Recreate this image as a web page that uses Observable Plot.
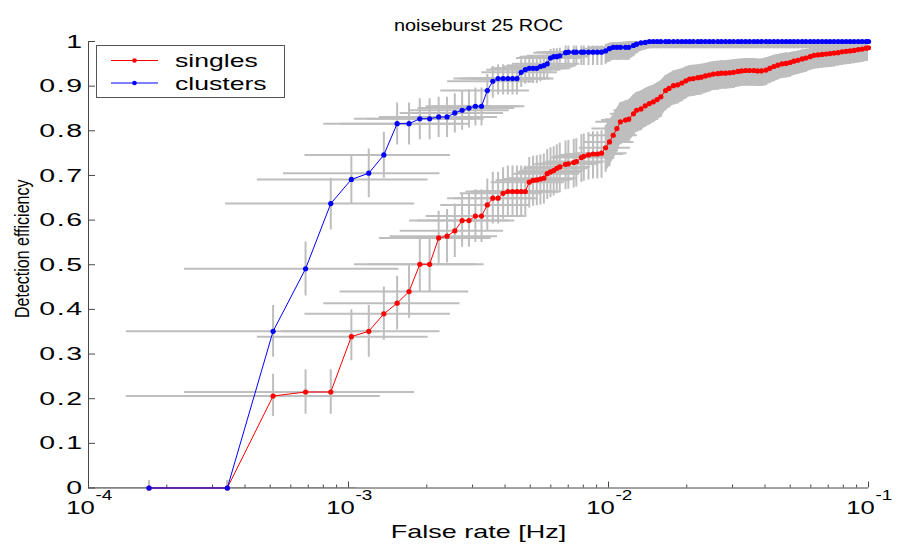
<!DOCTYPE html>
<html>
<head>
<meta charset="utf-8">
<script src="https://cdn.jsdelivr.net/npm/d3@7"></script>
<script src="https://cdn.jsdelivr.net/npm/@observablehq/plot@0.6"></script>
<style>
  html, body { margin: 0; padding: 0; background: #fff; }
  #wrap { position: relative; width: 903px; height: 548px; overflow: hidden; }
  #wrap svg text { font-family: "Liberation Sans", Arial, Helvetica, sans-serif; }
  text[aria-label="ytick-label"] { letter-spacing: 1px; }
  #legend { position: absolute; left: 96px; top: 45px; }
</style>
</head>
<body>
<div id="wrap"></div>
<script>
// ---- data ----
// number of false events k (false rate = k / livetime)
const livetime = 5850; // seconds
const kCount = [1,2,3,4,5,6,7,8,9,10,11,12,13,14,15,16,17,18,19,20,21,22,23,24,25,26,27,28,
  29,30,31,32,33,34,35,36,37,38, 40,41,43,44,46,47,49, 51,53,55,57,59,61,63,65,
  68,70,73,75,78,81,84,87,90,93, 97,100,104,108,112,116,120,124,129,133,
  138,143,148,154,159,165,171,177,184,190, 197,204,212,219,227,236,244,253,262,272,
  282,292,302,313,325,336,349,361,374,388, 402,416,431,447,463,480,497,515,534,553, 573,585];
// 90% interval on the false-event count (horizontal error bars)
const kLo = [0.051,0.355,0.818,1.37,1.97,2.61,3.29,3.98,4.70,5.43,6.17,6.92,7.69,8.46,9.25,10.04,10.83,11.63,12.44,13.25,14.07,14.89,15.72,16.55,17.38,18.22,19.06,19.90,
  20.7,21.6,22.4,23.3,24.2,25.0,25.9,26.7,27.6,28.5, 30.2,31.1,32.8,33.7,35.4,36.3,38.1, 39.9,41.6,43.4,45.2,47.0,48.8,50.5,52.3,
  55.0,56.8,59.5,61.4,64.1,66.8,69.5,72.3,75.0,77.7, 81.4,84.2,87.8,91.5,95.2,98.9,102.6,106.3,110.9,114.6,
  119.3,123.9,128.6,134.2,138.9,144.5,150.1,155.7,162.3,167.9, 174.5,181.1,188.6,195.3,202.8,211.3,218.9,227.4,236.0,245.5,
  255.0,264.5,274.0,284.5,295.9,306.5,318.9,330.4,342.8,356.2, 369.6,383.0,397.5,412.8,428.2,444.6,461.0,478.3,496.6,514.9, 534.2,545.8];
const kHi = [4.74,6.30,7.75,9.15,10.51,11.84,13.15,14.43,15.71,16.96,18.21,19.44,20.67,21.89,23.10,24.30,25.50,26.69,27.88,29.06,30.24,31.41,32.58,33.75,34.92,36.08,37.23,38.39,
  39.6,40.7,41.9,43.0,44.2,45.3,46.4,47.6,48.7,49.8, 52.1,53.2,55.5,56.6,58.9,60.0,62.2, 64.5,66.7,68.9,71.1,73.3,75.6,77.8,80.0,
  83.3,85.5,88.8,91.0,94.2,97.5,100.8,104.0,107.3,110.6, 114.9,118.2,122.5,126.8,131.1,135.4,139.7,144.0,149.4,153.7,
  159.0,164.4,169.7,176.1,181.4,187.8,194.2,200.6,208.0,214.4, 221.8,229.2,237.7,245.0,253.5,263.0,271.4,280.9,290.3,300.8,
  311.3,321.8,332.3,343.8,356.4,367.9,381.4,394.0,407.5,422.1, 436.7,451.3,466.9,483.5,500.1,517.7,535.4,554.0,573.7,593.4, 614.1,626.5];

// singles (red)
const singlesEff = [0,0,0.206,0.215,0.215,0.339,0.351,0.390,0.414,0.440,0.501,0.501,0.560,0.564,0.576,0.599,0.599,0.609,0.609,0.634,0.649,0.649,0.660,0.664,0.664,0.664,0.664,0.664,
  0.685,0.689,0.690,0.692,0.694,0.704,0.708,0.711,0.716,0.719, 0.725,0.726,0.729,0.731,0.740,0.743,0.746, 0.748,0.748,0.750,0.762,0.775,0.790,0.805,0.820,
  0.824,0.826,0.838,0.846,0.849,0.856,0.861,0.865,0.870,0.876, 0.890,0.895,0.901,0.903,0.907,0.912,0.916,0.917,0.919,0.920,
  0.923,0.925,0.927,0.928,0.929,0.929,0.930,0.931,0.933,0.934, 0.935,0.935,0.935,0.934,0.934,0.936,0.940,0.944,0.947,0.950,
  0.951,0.953,0.956,0.958,0.961,0.963,0.966,0.969,0.970,0.971, 0.972,0.973,0.974,0.975,0.977,0.978,0.979,0.980,0.982,0.983, 0.985,0.986];
const singlesLo = [0,0,0.160,0.165,0.165,0.285,0.293,0.331,0.354,0.380,0.440,0.440,0.500,0.504,0.516,0.539,0.539,0.550,0.550,0.575,0.591,0.591,0.602,0.606,0.606,0.606,0.606,0.606,
  0.627,0.631,0.632,0.634,0.636,0.646,0.650,0.654,0.659,0.662, 0.668,0.669,0.672,0.674,0.684,0.687,0.690, 0.692,0.692,0.694,0.707,0.720,0.736,0.752,0.769,
  0.773,0.775,0.788,0.797,0.800,0.808,0.813,0.818,0.823,0.830, 0.845,0.851,0.858,0.860,0.865,0.871,0.876,0.877,0.879,0.880,
  0.884,0.887,0.890,0.891,0.893,0.893,0.894,0.895,0.898,0.899, 0.900,0.900,0.900,0.899,0.899,0.901,0.906,0.910,0.914,0.917,
  0.918,0.920,0.924,0.926,0.929,0.931,0.935,0.938,0.939,0.940, 0.941,0.942,0.943,0.945,0.947,0.948,0.949,0.950,0.952,0.953, 0.955,0.956];
const singlesHi = [0.016,0.016,0.255,0.265,0.265,0.399,0.409,0.450,0.474,0.500,0.562,0.562,0.620,0.624,0.636,0.659,0.659,0.668,0.668,0.692,0.707,0.707,0.717,0.721,0.721,0.721,0.721,0.721,
  0.740,0.743,0.744,0.746,0.748,0.758,0.762,0.764,0.769,0.772, 0.777,0.778,0.781,0.782,0.791,0.793,0.796, 0.798,0.798,0.800,0.811,0.823,0.836,0.850,0.863,
  0.867,0.869,0.880,0.886,0.889,0.895,0.899,0.902,0.907,0.912, 0.924,0.928,0.934,0.936,0.939,0.943,0.946,0.947,0.948,0.949,
  0.951,0.953,0.955,0.956,0.957,0.957,0.958,0.959,0.960,0.961, 0.962,0.962,0.962,0.961,0.961,0.963,0.966,0.969,0.971,0.973,
  0.974,0.975,0.977,0.978,0.981,0.982,0.984,0.986,0.987,0.987, 0.988,0.988,0.989,0.990,0.991,0.992,0.993,0.994,0.995,0.996, 0.997,0.998];

// clusters (blue)
const clustersEff = [0,0,0.351,0.491,0.637,0.691,0.705,0.746,0.816,0.816,0.827,0.827,0.831,0.831,0.840,0.846,0.851,0.855,0.855,0.890,0.911,0.917,0.917,0.917,0.917,0.917,0.931,0.937,
  0.940,0.940,0.940,0.944,0.946,0.950,0.963,0.966,0.966,0.968, 0.975,0.976,0.976,0.976,0.976,0.976,0.976, 0.976,0.976,0.976,0.979,0.984,0.987,0.987,0.987,
  0.987,0.987,0.991,0.994,0.997,0.998,1,1,1,1, 1,1,1,1,1,1,1,1,1,1,
  1,1,1,1,1,1,1,1,1,1, 1,1,1,1,1,1,1,1,1,1,
  1,1,1,1,1,1,1,1,1,1, 1,1,1,1,1,1,1,1,1,1, 1,1];
const clustersLo = [0,0,0.293,0.430,0.578,0.635,0.650,0.694,0.768,0.768,0.780,0.780,0.785,0.785,0.795,0.801,0.806,0.811,0.811,0.850,0.873,0.880,0.880,0.880,0.880,0.880,0.897,0.904,
  0.906,0.906,0.906,0.910,0.913,0.917,0.931,0.935,0.935,0.937, 0.945,0.946,0.946,0.946,0.946,0.946,0.946, 0.946,0.946,0.946,0.949,0.954,0.958,0.958,0.958,
  0.958,0.958,0.966,0.972,0.978,0.981,0.984,0.984,0.984,0.984, 0.984,0.984,0.984,0.984,0.984,0.984,0.984,0.984,0.984,0.984,
  0.984,0.984,0.984,0.984,0.984,0.984,0.984,0.984,0.984,0.984, 0.984,0.984,0.984,0.984,0.984,0.984,0.984,0.984,0.984,0.984,
  0.984,0.984,0.984,0.984,0.984,0.984,0.984,0.984,0.984,0.984, 0.984,0.984,0.984,0.984,0.984,0.984,0.984,0.984,0.984,0.984, 0.984,0.984];
const clustersHi = [0.016,0.016,0.409,0.551,0.694,0.746,0.759,0.797,0.862,0.862,0.872,0.872,0.875,0.875,0.883,0.888,0.892,0.896,0.896,0.926,0.944,0.948,0.948,0.948,0.948,0.948,0.959,0.963,
  0.966,0.966,0.966,0.969,0.970,0.973,0.982,0.984,0.984,0.985, 0.990,0.990,0.990,0.990,0.990,0.990,0.990, 0.990,0.990,0.990,0.993,0.996,0.998,0.998,0.998,
  0.998,0.998,1,1,1,1,1,1,1,1, 1,1,1,1,1,1,1,1,1,1,
  1,1,1,1,1,1,1,1,1,1, 1,1,1,1,1,1,1,1,1,1,
  1,1,1,1,1,1,1,1,1,1, 1,1,1,1,1,1,1,1,1,1, 1,1];

const seriesNames = ["singles", "clusters"];
const seriesColors = ["#ff0000", "#0000ff"];

// axis ticks
const xMajor = [1e-4, 1e-3, 1e-2, 1e-1];
const xMajorExp = ["-4", "-3", "-2", "-1"];
const xMinor = [2e-4,3e-4,4e-4,5e-4,6e-4,7e-4,8e-4,9e-4, 2e-3,3e-3,4e-3,5e-3,6e-3,7e-3,8e-3,9e-3, 2e-2,3e-2,4e-2,5e-2,6e-2,7e-2,8e-2,9e-2];
const yTicks = [0, 0.1, 0.2, 0.3, 0.4, 0.5, 0.6, 0.7, 0.8, 0.9, 1];
const yTickLabels = ["0","0.1","0.2","0.3","0.4","0.5","0.6","0.7","0.8","0.9","1"];

const titleText = "noiseburst 25 ROC";
const xLabel = "False rate [Hz]";
const yLabel = "Detection efficiency";

// ---- build table ----
function buildRows(name, eff, lo, hi) {
  return kCount.map((k, i) => ({
    series: name, k,
    rate: k / livetime, rateLo: kLo[i] / livetime, rateHi: kHi[i] / livetime,
    eff: eff[i], lo: lo[i], hi: hi[i]
  }));
}
const data = [
  ...buildRows("singles", singlesEff, singlesLo, singlesHi),
  ...buildRows("clusters", clustersEff, clustersLo, clustersHi)
];
const bandRows = data.filter(d => d.k >= 57);

const W = 903, H = 548, mL = 88, mR = 35, mT = 41, mB = 60.5;
const plotW = W - mL - mR, plotH = H - mT - mB;
const gray = "#bebebe";
const axisColor = "#474747";

const chart = Plot.plot({
  width: W, height: H,
  marginLeft: mL, marginRight: mR, marginTop: mT, marginBottom: mB,
  style: { background: "#fff", overflow: "visible", fontSize: "19px" },
  x: { type: "log", domain: [1e-4, 1e-1], axis: null },
  y: { domain: [0, 1], axis: null },
  color: { domain: seriesNames, range: seriesColors },
  marks: [
    // error bars
    Plot.areaY(bandRows, { x: "rate", y1: "lo", y2: "hi", z: "series", fill: gray, clip: true }),
    Plot.ruleY(data, { y: "eff", x1: "rateLo", x2: "rateHi", stroke: gray, strokeWidth: 2, clip: true }),
    Plot.ruleX(data, { x: "rate", y1: "lo", y2: "hi", stroke: gray, strokeWidth: 2, clip: true }),
    // axes
    Plot.ruleY([0], { stroke: axisColor }),
    Plot.ruleX([1e-4], { stroke: axisColor }),
    Plot.tickX(xMajor, { x: d => d, stroke: axisColor, insetTop: plotH - 6 }),
    Plot.tickX(xMinor, { x: d => d, stroke: axisColor, insetTop: plotH - 3 }),
    Plot.tickY(yTicks, { y: d => d, stroke: axisColor, insetRight: plotW - 7 }),
    // series
    Plot.line(data, { x: "rate", y: "eff", z: "series", stroke: "series", strokeWidth: 1 }),
    Plot.dot(data, { x: "rate", y: "eff", fill: "series", r: 2.6 }),
    // tick labels
    Plot.text(yTicks, { y: d => d, frameAnchor: "left", text: (d, i) => yTickLabels[i], textAnchor: "end", dx: -5, fontSize: 19, fill: "#000", ariaLabel: () => "ytick-label" }),
    Plot.text(xMajor, { x: d => d, frameAnchor: "bottom", text: () => "10", textAnchor: "middle", dx: -8, dy: 25.5, fontSize: 19, fill: "#000", ariaLabel: () => "xtick-base" }),
    Plot.text(xMajor, { x: d => d, frameAnchor: "bottom", text: (d, i) => xMajorExp[i], textAnchor: "middle", dx: 15.5, dy: 12, fontSize: 14, fill: "#000", ariaLabel: () => "xtick-exp" }),
    // titles
    Plot.text([titleText], { frameAnchor: "top", text: d => d, textAnchor: "middle", dy: -23, fontSize: 17, fill: "#000", ariaLabel: () => "title" }),
    Plot.text([xLabel], { frameAnchor: "bottom", text: d => d, textAnchor: "middle", dy: 49.5, fontSize: 19, fill: "#000", ariaLabel: () => "xlabel" }),
    Plot.text([yLabel], { frameAnchor: "left", text: d => d, textAnchor: "middle", rotate: -90, dx: -66, dy: -16, fontSize: 16, fill: "#000", ariaLabel: () => "ylabel" })
  ]
});

const wrap = document.getElementById("wrap");
wrap.appendChild(chart);

// widen the glyphs horizontally around each text's own anchor (the reference font is wide)
function stretchText(nodes, s, anchor) {
  nodes.forEach(t => {
    const b = t.getBBox();
    const ax = anchor === "end" ? b.x + b.width : anchor === "start" ? b.x : b.x + b.width / 2;
    const tr = t.getAttribute("transform") || "";
    t.setAttribute("transform", `${tr} translate(${ax},0) scale(${s},1) translate(${-ax},0)`);
  });
}
// for the rotated label: enlarge glyph height (screen-horizontal) around its centre line
function thickenRotated(nodes, s) {
  nodes.forEach(t => {
    const b = t.getBBox();
    const ay = b.y + b.height / 2;
    const tr = t.getAttribute("transform") || "";
    t.setAttribute("transform", `${tr} translate(0,${ay}) scale(1,${s}) translate(0,${-ay})`);
  });
}
const q = label => chart.querySelectorAll(`text[aria-label="${label}"]`);
stretchText(q("ytick-label"), 1.5, "end");
stretchText(q("xtick-base"), 1.35, "middle");
stretchText(q("xtick-exp"), 1.35, "middle");
stretchText(q("title"), 1.17, "middle");
stretchText(q("xlabel"), 1.42, "middle");
thickenRotated(q("ylabel"), 1.3);

// legend (overlay box, top-left of the plot)
const NS = "http://www.w3.org/2000/svg";
const lg = document.createElementNS(NS, "svg");
lg.setAttribute("id", "legend");
lg.setAttribute("width", 190);
lg.setAttribute("height", 54);
let html = `<rect x="0.5" y="0.5" width="188" height="52" fill="#fff" stroke="#555" stroke-width="1"/>`;
seriesNames.forEach((name, i) => {
  const cy = 15.5 + i * 22.5;
  html += `<line x1="15" x2="62" y1="${cy}" y2="${cy}" stroke="${seriesColors[i]}" stroke-width="1"/>`;
  html += `<circle cx="38.5" cy="${cy}" r="2.3" fill="${seriesColors[i]}"/>`;
  html += `<text x="79" y="${cy}" dy="0.35em" font-size="19" fill="#000">${name}</text>`;
});
lg.innerHTML = html;
wrap.appendChild(lg);
stretchText(lg.querySelectorAll("text"), 1.4, "start");
</script>
</body>
</html>
